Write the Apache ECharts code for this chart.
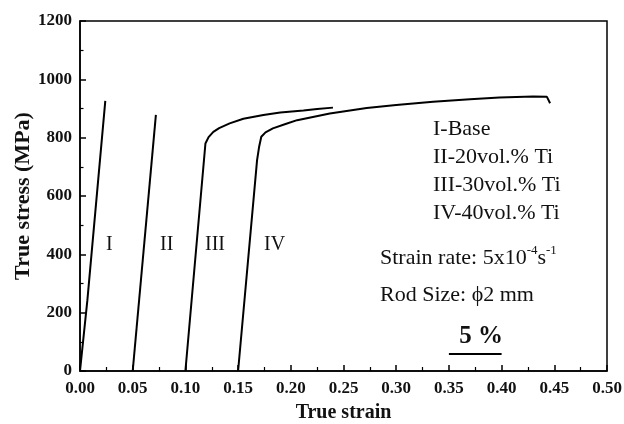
<!DOCTYPE html>
<html>
<head>
<meta charset="utf-8">
<script src="https://cdn.jsdelivr.net/npm/echarts@6/dist/echarts.min.js"></script>
<style>
  html, body { margin: 0; padding: 0; background: #fff; }
  #chart { width: 624px; height: 424px; }
</style>
</head>
<body>
<div id="chart"></div>
<script>
// [true strain, true stress (MPa)]
const curveI = [[0, 0], [0.007, 243], [0.024, 926]];
const curveII = [[0.05, 0], [0.072, 878]];
const curveIII = [
  [0.100, 0], [0.119, 780], [0.122, 802], [0.1265, 820], [0.132, 833], [0.142, 849],
  [0.155, 865], [0.174, 878], [0.190, 886], [0.212, 893], [0.225, 898], [0.240, 903]
];
const curveIV = [
  [0.150, 0], [0.168, 723], [0.170, 770], [0.172, 803], [0.176, 818], [0.183, 832],
  [0.195, 847], [0.206, 860], [0.237, 883], [0.272, 902], [0.300, 912], [0.335, 923],
  [0.370, 932], [0.398, 938], [0.430, 941], [0.443, 940], [0.446, 918]
];
// 5 % strain scale bar
const scaleBar = [[0.35, 58], [0.40, 58]];

const curveNames = ['I', 'II', 'III', 'IV'];
const legendLines = ['I-Base', 'II-20vol.% Ti', 'III-30vol.% Ti', 'IV-40vol.% Ti'];

const serif = '"Liberation Serif", "Times New Roman", serif';

const chart = echarts.init(document.getElementById('chart'));

const lineSeries = (name, data) => ({
  name: name,
  type: 'line',
  data: data,
  showSymbol: false,
  smooth: false,
  lineStyle: { color: '#000', width: 2 },
  animation: false
});

const textEl = (text, x, y, size, weight, align) => ({
  type: 'text',
  x: x,
  y: y,
  style: {
    text: text,
    fill: '#111',
    font: (weight || 'normal') + ' ' + size + 'px ' + serif,
    textAlign: align || 'left',
    textVerticalAlign: 'middle'
  }
});

const romanX = [106, 160, 205, 264];

let option = {
  backgroundColor: '#fff',
  animation: false,
  grid: {
    left: 80, right: 17, top: 21, bottom: 53,
    outerBoundsMode: 'none',
    containLabel: false,
    show: true, borderColor: '#000', borderWidth: 1.5
  },
  xAxis: {
    type: 'value',
    min: 0, max: 0.5, interval: 0.05,
    name: 'True strain',
    nameLocation: 'middle',
    nameGap: 32,
    nameTextStyle: { fontFamily: serif, fontWeight: 'bold', fontSize: 20, color: '#111' },
    axisLine: { show: true, onZero: false, lineStyle: { color: '#000', width: 1.5 } },
    axisTick: { show: true, inside: true, length: 6, lineStyle: { color: '#000', width: 1.5 } },
    minorTick: { show: true, splitNumber: 2, length: 4, lineStyle: { color: '#000', width: 1.2 } },
    axisLabel: {
      margin: 9,
      fontFamily: serif, fontWeight: 'bold', fontSize: 17, color: '#111',
      formatter: v => v.toFixed(2)
    },
    splitLine: { show: false }
  },
  yAxis: {
    type: 'value',
    min: 0, max: 1200, interval: 200,
    name: 'True stress (MPa)',
    nameLocation: 'middle',
    nameGap: 46,
    nameMoveOverlap: false,
    nameTextStyle: { fontFamily: serif, fontWeight: 'bold', fontSize: 22, color: '#111' },
    axisLine: { show: true, onZero: false, lineStyle: { color: '#000', width: 1.5 } },
    axisTick: { show: true, inside: true, length: 6, lineStyle: { color: '#000', width: 1.5 } },
    minorTick: { show: true, splitNumber: 2, length: 3.5, lineStyle: { color: '#000', width: 1.2 } },
    axisLabel: {
      margin: 8,
      fontFamily: serif, fontWeight: 'bold', fontSize: 17, color: '#111',
      formatter: v => String(v)
    },
    splitLine: { show: false }
  },
  series: [
    lineSeries('I', curveI),
    lineSeries('II', curveII),
    lineSeries('III', curveIII),
    lineSeries('IV', curveIV),
    {
      type: 'line',
      data: scaleBar,
      showSymbol: false,
      lineStyle: { color: '#000', width: 2 },
      animation: false
    }
  ],
  graphic: [
    ...curveNames.map((n, i) => textEl(n, romanX[i], 245, 20)),
    ...legendLines.map((t, i) => textEl(t, 433, 129 + i * 28.2, 22)),
    {
      type: 'text',
      x: 380, y: 258,
      style: {
        text: 'Strain rate: 5x10{sup|-4}s{sup|-1}',
        fill: '#111',
        font: '22px ' + serif,
        textVerticalAlign: 'middle',
        rich: {
          sup: { font: '13px ' + serif, fill: '#111', verticalAlign: 'top', padding: [0, 0, 14, 0] }
        }
      }
    },
    textEl('Rod Size: \u03d52 mm', 380, 295, 22),
    textEl('5 %', 481, 337, 25, 'bold', 'center')
  ]
};

chart.setOption(option);
</script>
</body>
</html>
